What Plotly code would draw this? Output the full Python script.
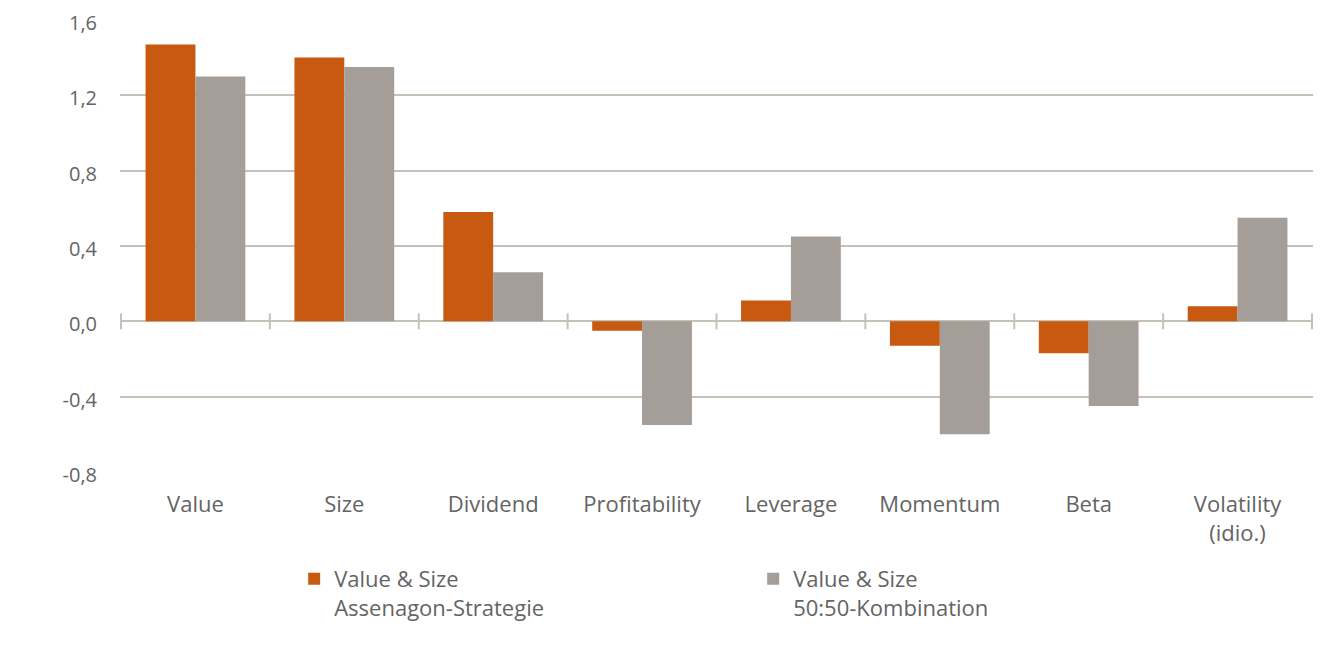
import plotly.graph_objects as go

# factor exposures
categories = ["Value", "Size", "Dividend", "Profitability", "Leverage",
              "Momentum", "Beta", "Volatility<br>(idio.)"]
strategie = [1.47, 1.40, 0.58, -0.05, 0.11, -0.13, -0.17, 0.08]
kombination = [1.30, 1.35, 0.26, -0.55, 0.45, -0.60, -0.45, 0.55]
name_strategie = "Value & Size<br>Assenagon-Strategie"
name_kombination = "Value & Size<br>50:50-Kombination"
y_ticks = [-0.8, -0.4, 0.0, 0.4, 0.8, 1.2, 1.6]
y_ticktext = [f"{v:.1f}".replace(".", ",") for v in y_ticks]

orange = "#C75A10"
grey = "#A59D98"
gridc = "#C5C1B6"
textc = "#646464"
font = "Open Sans"

fig = go.Figure()
fig.add_trace(go.Bar(x=categories, y=strategie, name=name_strategie,
                     marker=dict(color=orange, line=dict(width=0))))
fig.add_trace(go.Bar(x=categories, y=kombination, name=name_kombination,
                     marker=dict(color=grey, line=dict(width=0))))

# little tick marks on the zero line between categories
tick_half = 0.042
for i in range(len(categories) + 1):
    fig.add_shape(type="line", xref="x", yref="y",
                  x0=i - 0.5, x1=i - 0.5, y0=-tick_half, y1=tick_half,
                  line=dict(color=gridc, width=2), layer="above")

# page has an 8px body margin, so margins are shifted by that
fig.update_layout(
    width=1340, height=648,
    margin=dict(l=112, r=35, t=11, b=184, autoexpand=False),
    paper_bgcolor="white", plot_bgcolor="white",
    barmode="group", bargap=0.33, bargroupgap=0,
    font=dict(family=font, size=22, color=textc),
    showlegend=True,
    legend=dict(orientation="h", x=0.146, y=-0.19, xanchor="left", yanchor="top",
                valign="top", entrywidth=414, entrywidthmode="pixels",
                font=dict(size=22, color=textc), traceorder="normal"),
)
fig.update_xaxes(showgrid=False, showline=False, ticks="", zeroline=False,
                 automargin=False, ticklabelstandoff=17,
                 tickfont=dict(size=22, color=textc))
fig.update_yaxes(range=[-0.8, 1.605], tickvals=y_ticks, ticktext=y_ticktext,
                 showgrid=True, gridcolor=gridc, gridwidth=2,
                 zeroline=True, zerolinecolor=gridc, zerolinewidth=2,
                 showline=False, ticks="", ticklabelstandoff=22, automargin=False,
                 ticklabeloverflow="allow", ticklabelshift=3,
                 tickfont=dict(size=20, color=textc))

fig.write_html("out.html")
